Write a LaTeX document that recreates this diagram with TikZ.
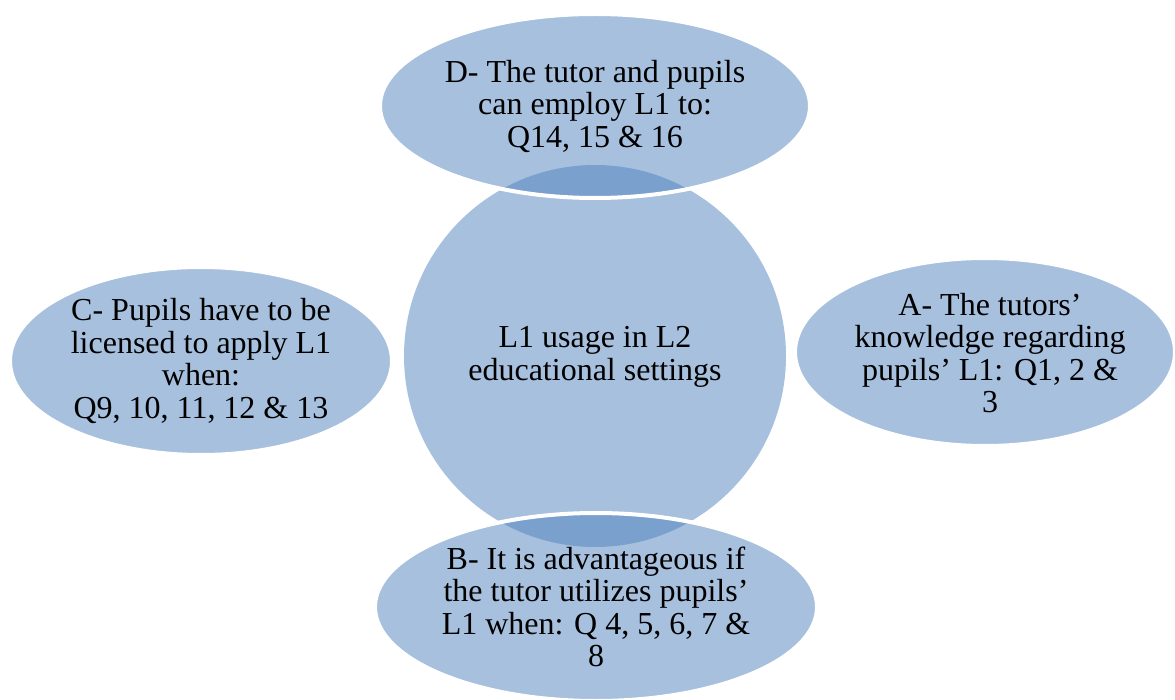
\documentclass[tikz,border=0pt]{standalone}
\usepackage{fontspec}
\setmainfont{Liberation Serif}
\usetikzlibrary{shapes.geometric}
\definecolor{acc}{HTML}{4F81BD}
\begin{document}
\begin{tikzpicture}[x=1pt,y=-1pt,
  shp/.style={fill=acc, fill opacity=0.5, draw=white, draw opacity=1, line width=4pt},
  lbl/.style={align=center, inner sep=0pt, font=\fontsize{32}{32.5}\selectfont, text=black}]
\useasboundingbox (0,0) rectangle (1175,700);
% central circle
\fill[acc, fill opacity=0.5] (595,356) circle[radius=191];
% side ellipses
\path[shp] (985,352) ellipse[x radius=190, y radius=94];
\path[shp] (201,361) ellipse[x radius=191, y radius=94];
% top and bottom ellipses
\path[shp] (595,106) ellipse[x radius=215, y radius=92];
\path[shp] (596,607) ellipse[x radius=221, y radius=94];
% labels
\node[lbl] (center) at (595,357) {L1 usage in L2\\educational settings};
\node[lbl] (d) at (595,106) {D- The tutor and pupils\\can employ L1 to:\\Q14, 15 \& 16};
\node[lbl] (a) at (990,353) {A- The tutors’\\knowledge regarding\\pupils’ L1: Q1, 2 \&\\3};
\node[lbl] (c) at (201,361) {C- Pupils have to be\\licensed to apply L1\\when:\\Q9, 10, 11, 12 \& 13};
\node[lbl] (b) at (596,607) {B- It is advantageous if\\the tutor utilizes pupils’\\L1 when: Q 4, 5, 6, 7 \&\\8};
\end{tikzpicture}
\end{document}
